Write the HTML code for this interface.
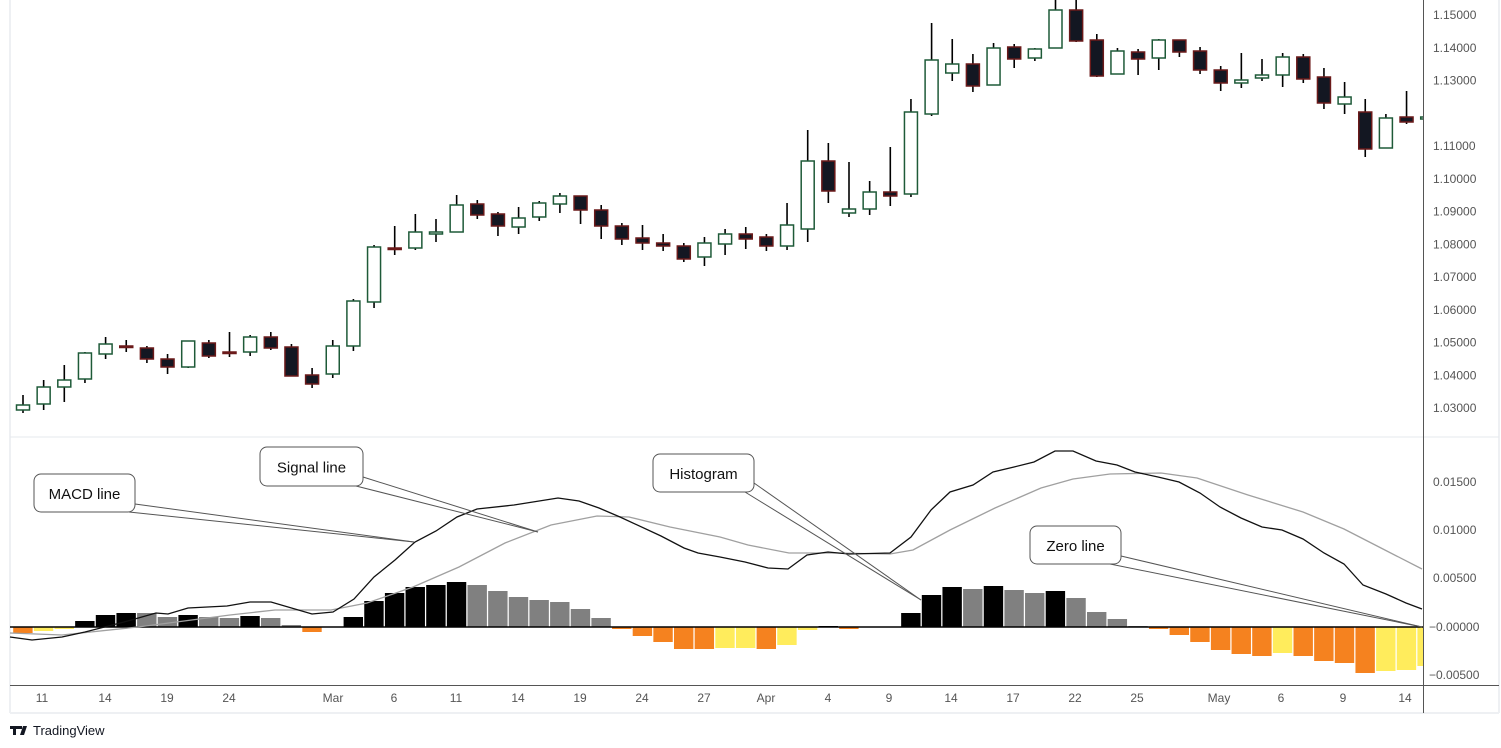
<!DOCTYPE html>
<html><head><meta charset="utf-8">
<style>
html,body{margin:0;padding:0;background:#fff;width:1501px;height:748px;overflow:hidden}
svg{display:block}
text{font-family:"Liberation Sans",sans-serif}
</style></head><body>
<svg id="s" width="1501" height="748" viewBox="0 0 1501 748" xmlns="http://www.w3.org/2000/svg">
<defs><clipPath id="cp"><rect x="0" y="0" width="1423" height="713"/></clipPath></defs>
<rect x="0" y="0" width="1501" height="748" fill="#fff"/>
<line x1="10" y1="0" x2="10" y2="713" stroke="#eef0f3" stroke-width="2"/>
<line x1="1499" y1="0" x2="1499" y2="713" stroke="#eef0f3" stroke-width="2"/>
<line x1="10" y1="713" x2="1499" y2="713" stroke="#eef0f3" stroke-width="2"/>
<line x1="10" y1="437" x2="1499" y2="437" stroke="#e6e8ec" stroke-width="1"/>
<g id="g" clip-path="url(#cp)"></g>
<line x1="10" y1="685.5" x2="1499" y2="685.5" stroke="#555" stroke-width="1"/>
<line x1="1423.5" y1="0" x2="1423.5" y2="713" stroke="#555" stroke-width="1"/>
<g font-size="12" fill="#555" id="ax"></g>
<g font-size="12" fill="#555" id="tx" text-anchor="middle"></g>
<g transform="translate(10,724)"><path d="M0 2h9v3H6v6H3V5H0z M9 2h3v3h-3z M13 2h4l-3 9h-4z" fill="#131722"/></g>
<text x="33" y="735" font-size="13" fill="#131722">TradingView</text>
</svg>
<script>
var NS="http://www.w3.org/2000/svg",g=document.getElementById('g');
function el(t,a,p){var e=document.createElementNS(NS,t);for(var k in a)e.setAttribute(k,a[k]);(p||g).appendChild(e);return e;}
function X(i){return 23+20.65*i;}
var C=[[405,410,395,413,1],[387,404,380,410,1],[380,387,365,402,1],[353,379,352,383,1],[344,354,337,359,1],[346,346,340,352,0],[348,359,346,363,0],[359,367,354,374,0],[341,367,341,368,1],[343,356,340,358,0],[352,352,332,357,0],[337,352,335,356,1],[337,348,332,350,0],[347,376,344,376,0],[375,384,368,388,0],[346,374,340,378,1],[301,346,299,351,1],[247,302,245,308,1],[248,248,226,255,0],[232,248,214,250,1],[232,234,219,242,1],[205,232,195,232,1],[204,215,200,219,0],[214,226,212,236,0],[218,227,207,234,1],[203,217,201,221,1],[196,204,193,213,1],[196,210,196,224,0],[210,226,205,239,0],[226,239,223,245,0],[238,243,225,250,0],[243,246,234,251,0],[246,259,243,262,0],[243,257,237,266,1],[234,244,229,255,1],[234,239,227,249,0],[237,246,234,251,0],[225,246,203,250,1],[161,229,130,242,1],[161,191,143,203,0],[209,213,162,217,1],[192,209,181,215,1],[192,196,147,206,0],[112,194,99,197,1],[60,114,23,116,1],[64,73,39,81,1],[64,86,54,92,0],[48,85,43,85,1],[47,59,44,68,0],[49,58,48,61,1],[10,48,0,48,1],[10,41,0,42,0],[40,76,34,77,0],[51,74,48,74,1],[52,59,49,75,0],[40,58,39,70,1],[40,52,40,57,0],[51,70,47,74,0],[70,83,66,91,0],[80,83,53,88,1],[75,78,59,81,1],[57,75,53,87,1],[57,79,54,83,0],[77,103,68,109,0],[97,104,82,114,1],[112,149,99,157,0],[118,148,114,148,1],[117,122,91,124,0],[117,119,117,119,1]];
var cg=el('g',{});
C.forEach(function(c,i){var x=X(i);
 el('line',{x1:x,y1:c[2],x2:x,y2:c[3],stroke:'#000','stroke-width':1.6},cg);
 var h=Math.max(c[1]-c[0],1.5);
 el('rect',{x:x-6.5,y:c[0],width:13,height:h,fill:c[4]?'#fff':'#131722',stroke:c[4]?'#1e5a38':'#6b1a1a','stroke-width':1.5},cg);
});
var K='#000',G='#808080',O='#f5821f',Y='#ffec5c';
var H=[[633,O],[631,Y],[629,Y],[621,K],[615,K],[613,K],[613,G],[617,G],[615,K],[617,G],[618,G],[616,K],[618,G],[625,G],[632,O],[627,G],[617,K],[601,K],[593,K],[587,K],[585,K],[582,K],[585,G],[591,G],[597,G],[600,G],[602,G],[609,G],[618,G],[629,O],[636,O],[642,O],[649,O],[649,O],[648,Y],[648,Y],[649,O],[645,Y],[630,Y],[626,K],[629,O],[627,K],[627,K],[613,K],[595,K],[587,K],[589,G],[586,K],[590,G],[593,G],[591,K],[598,G],[612,G],[619,G],[626,G],[629,O],[635,O],[642,O],[650,O],[654,O],[656,O],[653,Y],[656,O],[661,O],[663,O],[673,O],[671,Y],[670,Y],[666,Y]];
H.forEach(function(h,i){var x=X(i)-9.8,w=19.4;
 var y1=Math.min(h[0],627),y2=Math.max(h[0],627);if(y2-y1<0.5)return;
 el('rect',{x:x,y:y1,width:w,height:y2-y1,fill:h[1]});});
el('line',{x1:10,y1:627,x2:1423,y2:627,stroke:'#000','stroke-width':1.5});
var M=[[10,637],[32,640],[62,637],[85,632],[124,622],[156,613],[168,614],[188,608],[227,606],[250,602],[271,602],[312,614],[333,612],[354,599],[374,577],[395,560],[415,542],[436,531],[457,517],[477,509],[514,505],[558,498],[579,501],[599,508],[620,517],[661,536],[684,548],[698,553],[720,557],[745,562],[768,568],[788,569],[807,555],[828,552],[849,554],[890,553],[911,537],[931,510],[950,492],[973,485],[993,472],[1014,467],[1034,462],[1055,451],[1073,451],[1096,461],[1117,465],[1135,472],[1158,477],[1179,482],[1200,493],[1220,507],[1241,518],[1262,527],[1282,530],[1303,539],[1324,553],[1344,564],[1363,585],[1386,594],[1406,603],[1422,609]];
var S=[[10,633],[62,635],[138,627],[230,615],[275,610],[331,610],[367,603],[413,587],[459,567],[505,543],[551,525],[597,516],[629,517],[670,527],[720,537],[748,545],[789,553],[835,553],[890,554],[913,550],[950,530],[995,508],[1041,488],[1073,479],[1110,474],[1161,473],[1197,478],[1248,495],[1303,512],[1344,529],[1381,548],[1422,569]];
el('polyline',{points:S.join(' '),fill:'none',stroke:'#a0a0a0','stroke-width':1.3});
el('polyline',{points:M.join(' '),fill:'none',stroke:'#111','stroke-width':1.3});
function call(bx,by,bw,bh,label,p1,p2,t){
 el('line',{x1:p1[0],y1:p1[1],x2:t[0],y2:t[1],stroke:'#555','stroke-width':1});
 el('line',{x1:p2[0],y1:p2[1],x2:t[0],y2:t[1],stroke:'#555','stroke-width':1});
 el('rect',{x:bx,y:by,width:bw,height:bh,rx:7,fill:'#fff',stroke:'#555','stroke-width':1});
 var tt=el('text',{x:bx+bw/2,y:by+bh/2+6,'font-size':15,'text-anchor':'middle',fill:'#111','font-family':'"DejaVu Sans Condensed","DejaVu Sans",sans-serif'});tt.textContent=label;
}
call(34,474,101,38,'MACD line',[135,504],[129,512],[414,542]);
call(260,447,103,39,'Signal line',[363,477],[356,486],[538,532]);
call(653,454,101,38,'Histogram',[754,483],[745,492],[921,600]);
call(1030,526,91,38,'Zero line',[1121,556],[1110,564],[1422,627]);
var ax=document.getElementById('ax');
var pl=['1.15000','1.14000','1.13000','','1.11000','1.10000','1.09000','1.08000','1.07000','1.06000','1.05000','1.04000','1.03000'];
pl.forEach(function(p,i){if(!p)return;var t=el('text',{x:1433,y:15+32.75*i+4},ax);t.textContent=p;});
[['0.01500',482],['0.01000',530],['0.00500',578],['\u22120.00000',627],['\u22120.00500',675]].forEach(function(a){var t=el('text',{x:a[0][0]=='\u2212'?1429:1433,y:a[1]+4},ax);t.textContent=a[0];});
var tx=document.getElementById('tx');
[['11',42],['14',105],['19',167],['24',229],['Mar',333],['6',394],['11',456],['14',518],['19',580],['24',642],['27',704],['Apr',766],['4',828],['9',889],['14',951],['17',1013],['22',1075],['25',1137],['May',1219],['6',1281],['9',1343],['14',1405]].forEach(function(a){var t=el('text',{x:a[1],y:702},tx);t.textContent=a[0];});
</script>
</body></html>
